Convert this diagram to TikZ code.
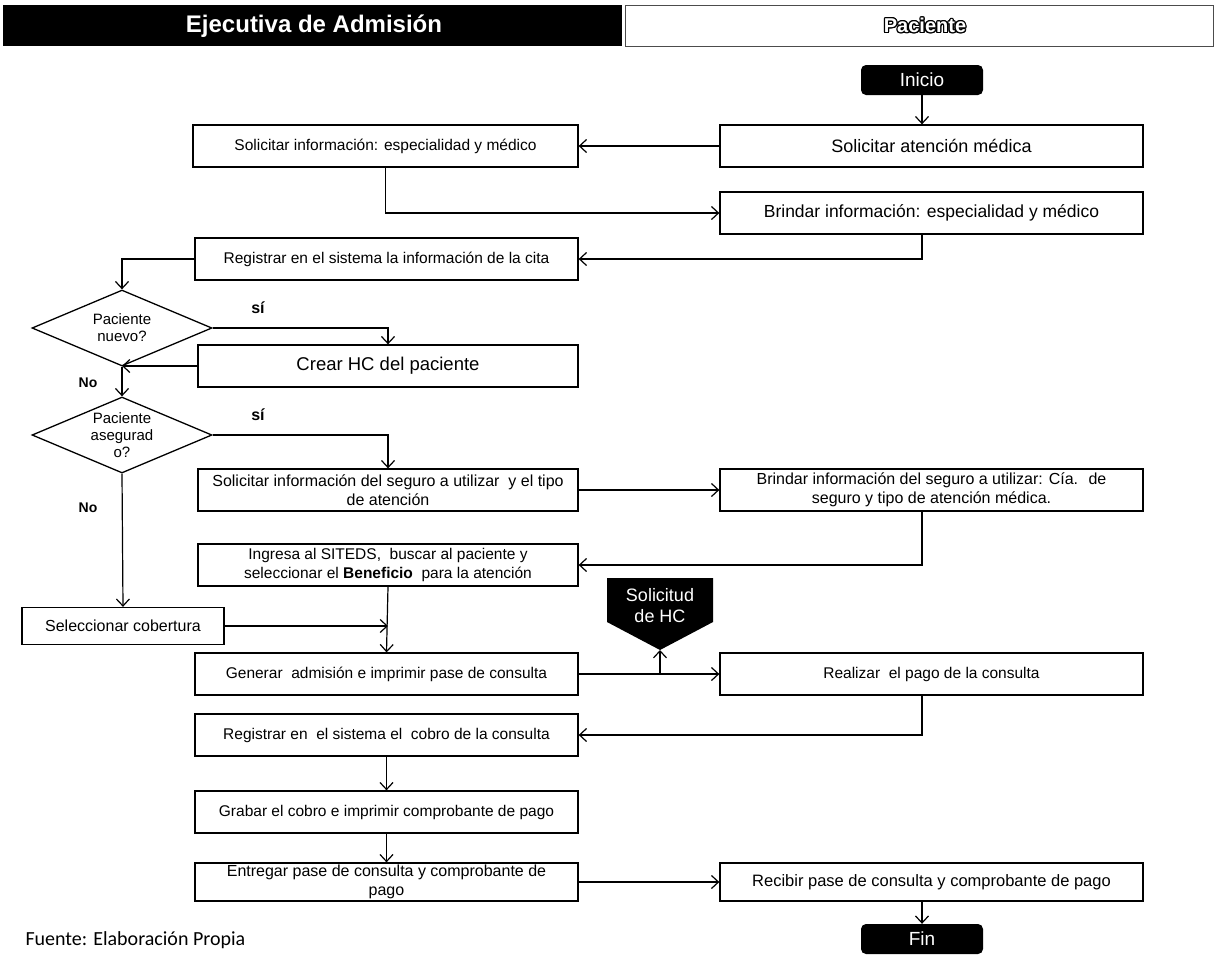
\documentclass[tikz,border=0pt]{standalone}
\usepackage{fontspec}
\setmainfont{Liberation Sans}
\newfontfamily\footfont{Carlito}
\usepackage{contour}
\contourlength{1.2pt}
\usetikzlibrary{arrows.meta,shapes.geometric}

\tikzset{
  box/.style={draw, line width=1.3pt, minimum height=42pt, align=center,
    font=\fontsize{15.5}{18.5}\selectfont, inner sep=2pt},
  lbox/.style={box, minimum width=383pt},
  rbox/.style={box, minimum width=423pt},
  term/.style={fill=black, rounded corners=5pt, minimum width=122pt,
    minimum height=30pt, text=white, font=\fontsize{19}{21}\selectfont},
  decision/.style={diamond, draw, line width=1.3pt, minimum width=180pt,
    minimum height=76pt, inner sep=0pt},
  dtext/.style={align=center, inner sep=0pt, font=\fontsize{15}{17}\selectfont},
  flow/.style={line width=1.2pt,
    -{Straight Barb[length=7pt,width=13pt,line width=1.2pt]}},
  lab/.style={font=\bfseries\fontsize{16}{18}\selectfont},
  nolab/.style={font=\bfseries\fontsize{14}{16}\selectfont}
}

\begin{document}
\begin{tikzpicture}[x=1pt,y=-1pt]
\useasboundingbox (0,0) rectangle (1215,954);

% swimlane headers
\fill[black] (3,5) rectangle (622,46);
\node[text=white, font=\bfseries\fontsize{24}{26}\selectfont] (laneA) at (314,26) {Ejecutiva de Admisión};
\draw[line width=1pt, black!70] (625,5) rectangle (1213,46);
\node[font=\bfseries\fontsize{20}{22}\selectfont] (laneB) at (925,26) {\contour{black}{\textcolor{white}{Paciente}}};

% terminals
\node[term] (inicio) at (922,80) {Inicio};
\node[term] (fin) at (922,939) {Fin};

% process boxes
\node[rbox, font=\fontsize{18}{20}\selectfont] (atencion) at (931.5,146) {Solicitar atención médica};
\node[lbox, minimum width=385pt] (info) at (385.5,146) {Solicitar información: especialidad y médico};
\node[rbox, font=\fontsize{17.5}{20}\selectfont] (brindar) at (931.5,213) {Brindar información: especialidad y médico};
\node[lbox] (regcita) at (386.5,259) {Registrar en el sistema la información de la cita};
\node[decision] (d1) at (122,328) {};
\node[dtext] (d1t) at (d1.center) {Paciente\\nuevo?};
\node[lbox, minimum width=380pt, font=\fontsize{18.5}{20}\selectfont] (crearhc) at (388,366) {Crear HC del paciente};
\node[decision] (d2) at (122,435) {};
\node[dtext] (d2t) at (d2.center) {Paciente\\asegurad\\o?};
\node[lbox, minimum width=380pt, font=\fontsize{16}{18.5}\selectfont] (solseg) at (388,490) {Solicitar información del seguro a utilizar \ y el tipo\\de atención};
\node[rbox, font=\fontsize{16}{18.5}\selectfont] (brseg) at (931.5,490) {Brindar información del seguro a utilizar: Cía. \ de\\seguro y tipo de atención médica.};
\node[lbox, minimum width=380pt] (ingresa) at (388,565) {Ingresa al SITEDS, \ buscar al paciente y\\seleccionar el \textbf{Beneficio} \ para la atención};
\node[box, minimum width=202pt, minimum height=37pt, font=\fontsize{16}{18}\selectfont] (selcob) at (123,626) {Seleccionar cobertura};
\node[lbox] (generar) at (386.5,674) {Generar \ admisión e imprimir pase de consulta};
\node[rbox] (realizar) at (931.5,674) {Realizar \ el pago de la consulta};
\node[lbox] (regcobro) at (386.5,735) {Registrar en \ el sistema el \ cobro de la consulta};
\node[lbox] (grabar) at (386.5,812) {Grabar el cobro e imprimir comprobante de pago};
\node[lbox, minimum height=38pt, font=\fontsize{16}{18.5}\selectfont] (entregar) at (386.5,882) {Entregar pase de consulta y comprobante de\\pago};
\node[rbox, minimum height=38pt, font=\fontsize{16.5}{18.5}\selectfont] (recibir) at (931.5,882) {Recibir pase de consulta y comprobante de pago};

% off-page connector
\fill[black] (607,578) -- (713,578) -- (713,622) -- (660,650) -- (607,622) -- cycle;
\node[text=white, align=center, font=\fontsize{18}{21}\selectfont] (solhc) at (660,606) {Solicitud\\de HC};
\coordinate (solhctip) at (660,650);

% connectors
\draw[flow] (inicio.south) -- (inicio |- atencion.north);
\draw[flow] (atencion.west) -- (info.east);
\draw[flow] (info.south) |- (brindar.west);
\draw[flow] (brindar.south -| inicio) |- (regcita.east);
\draw[flow] (regcita.west) -| (d1.north);
\draw[flow] (d1.east) -| (crearhc.north);
\node[lab] (si1) at (258,308) {sí};
\draw[flow] (d1.south) -- (d2.north);
\node[nolab] (no1) at (88,383) {No};
\draw[flow] (crearhc.west) -- (d1.south |- crearhc.west);
\draw[flow] (d2.east) -| (solseg.north);
\node[lab] (si2) at (258,415) {sí};
\draw[flow] (d2.south) -- (selcob.north);
\node[nolab] (no2) at (88,508) {No};
\draw[flow] (solseg.east) -- (brseg.west);
\draw[flow] (brseg.south -| inicio) |- (ingresa.east);
\draw[flow] (ingresa.south) -- (generar.north);
\draw[flow] (selcob.east) -- (ingresa.south |- selcob.east);
\draw[flow] (generar.east) -- (realizar.west);
\draw[flow] (solhc.center |- generar.east) -- (solhctip);
\draw[flow] (realizar.south -| inicio) |- (regcobro.east);
\draw[flow] (regcobro.south) -- (grabar.north);
\draw[flow] (grabar.south) -- (entregar.north);
\draw[flow] (entregar.east) -- (recibir.west);
\draw[flow] (recibir.south -| inicio) -- (fin.north);

% source note
\node[anchor=west, font=\footfont\fontsize{20}{22}\selectfont] (fuente) at (22,940) {Fuente: Elaboración Propia};
\end{tikzpicture}
\end{document}
